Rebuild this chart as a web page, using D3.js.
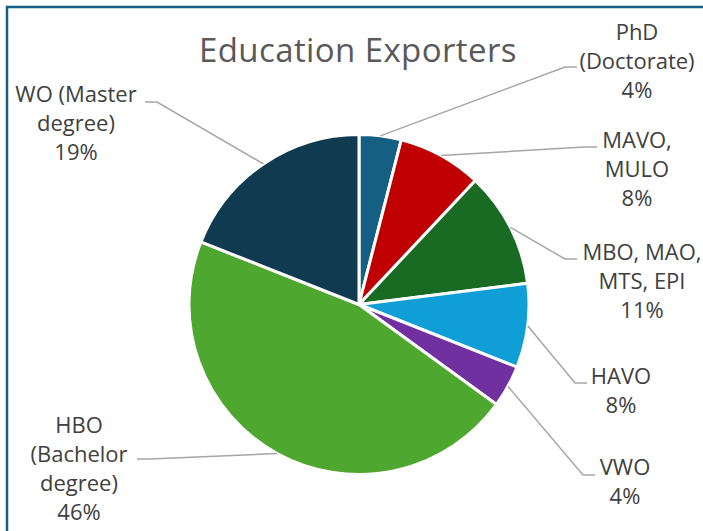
<!DOCTYPE html>
<html>
<head>
<meta charset="utf-8">
<script src="https://cdn.jsdelivr.net/npm/d3@7"></script>
<style>
  html, body { margin: 0; padding: 0; background: #fff; overflow: hidden; }
  svg { display: block; }
</style>
</head>
<body>
<svg id="chart" width="703" height="531"></svg>
<script>
// Share of education exporters by level of education (percent)
const categories = ["PhD (Doctorate)", "MAVO, MULO", "MBO, MAO, MTS, EPI", "HAVO", "VWO", "HBO (Bachelor degree)", "WO (Master degree)"];
const shares = [4, 8, 11, 8, 4, 46, 19];
const labelLines = [
  ["PhD", "(Doctorate)"],
  ["MAVO,", "MULO"],
  ["MBO, MAO,", "MTS, EPI"],
  ["HAVO"],
  ["VWO"],
  ["HBO", "(Bachelor", "degree)"],
  ["WO (Master", "degree)"]
];
const colors = ["#156082", "#C00000", "#196B24", "#0F9ED5", "#7030A0", "#4EA72E", "#0F3A50"];

// Label placement: text centre x, first baseline y, and the leader's elbow/end points
const labelLayout = [
  { x: 637, y: 40,  elbow: [565, 67],  end: [577, 67] },
  { x: 637, y: 148, elbow: [584, 147], end: [597, 147] },
  { x: 642, y: 260, elbow: [565, 259], end: [577, 259] },
  { x: 621, y: 384, elbow: [575, 383], end: [587, 383] },
  { x: 625, y: 475, elbow: [583, 475], end: [595, 475] },
  { x: 79,  y: 433, elbow: [150, 459], end: [137, 459] },
  { x: 76,  y: 102, elbow: [157, 102], end: [145, 102] }
];

const svg = d3.select("#chart");
const W = 703, H = 531;
const cx = 359, cy = 304.5, R = 170;
const lineH = 29;
const font = "'Open Sans', Roboto, sans-serif";

// chart frame (runs off the right and bottom edges)
svg.append("rect")
  .attr("x", 7).attr("y", 7)
  .attr("width", W + 20).attr("height", H + 20)
  .attr("fill", "none")
  .attr("stroke", "#156082")
  .attr("stroke-width", 2.5);

svg.append("text")
  .attr("x", 358).attr("y", 62)
  .attr("text-anchor", "middle")
  .attr("font-family", font)
  .attr("font-size", 33)
  .attr("letter-spacing", 0.4)
  .attr("fill", "#595959")
  .text("Education Exporters");

const data = categories.map((c, i) => ({ name: c, value: shares[i], lines: labelLines[i], color: colors[i], layout: labelLayout[i] }));

const pie = d3.pie().sort(null).value(d => d.value);
const arcs = pie(data);
const arc = d3.arc().innerRadius(0).outerRadius(R);
const edgeArc = d3.arc().innerRadius(R).outerRadius(R);

const g = svg.append("g").attr("transform", `translate(${cx},${cy})`);

g.selectAll("path.slice")
  .data(arcs)
  .join("path")
  .attr("class", "slice")
  .attr("d", arc)
  .attr("fill", d => d.data.color)
  .attr("stroke", "#fff")
  .attr("stroke-width", 3)
  .attr("stroke-linejoin", "round");

// leader lines from each slice's outer edge to its label
svg.selectAll("polyline.leader")
  .data(arcs)
  .join("polyline")
  .attr("class", "leader")
  .attr("points", d => {
    const [ex, ey] = edgeArc.centroid(d);
    const L = d.data.layout;
    return [[cx + ex, cy + ey], L.elbow, L.end].map(p => p.join(",")).join(" ");
  })
  .attr("fill", "none")
  .attr("stroke", "#A6A6A6")
  .attr("stroke-width", 1.5);

const labels = svg.selectAll("text.label")
  .data(arcs)
  .join("text")
  .attr("class", "label")
  .attr("text-anchor", "middle")
  .attr("font-family", font)
  .attr("font-size", 22)
  .attr("fill", "#404040");

labels.each(function (d) {
  const t = d3.select(this);
  const L = d.data.layout;
  const lines = d.data.lines.concat([d3.format(".0f")(d.data.value) + "%"]);
  lines.forEach((s, i) => {
    t.append("tspan").attr("x", L.x).attr("y", L.y + i * lineH).text(s);
  });
});
</script>
</body>
</html>
